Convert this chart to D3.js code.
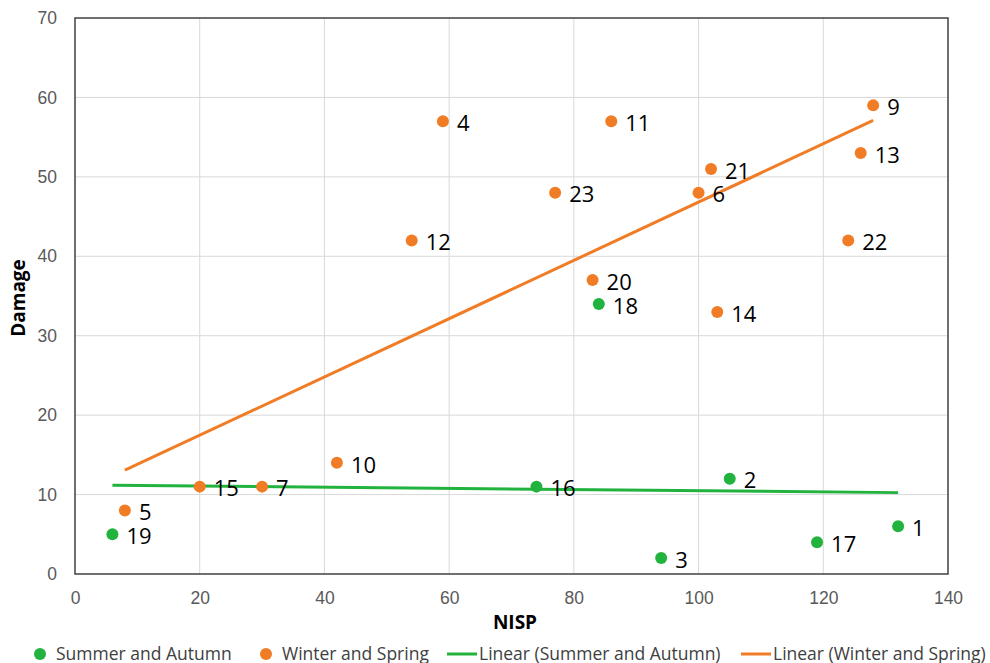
<!DOCTYPE html>
<html lang="en">
<head>
    <meta charset="UTF-8">
    <title>Damage vs NISP</title>
    <style>
        body { margin: 0; background: #fff; }
        svg { font-family: "Open Sans", sans-serif; }
        .tick text { fill: #595959; font-size: 17.5px; }
        .axis-title { font-size: 19px; font-weight: bold; fill: #000; }
        .pt-label { font-size: 22px; fill: #000; }
        .legend-label { font-size: 17.5px; fill: #404040; }
    </style>
</head>
<body>
    <svg width="990" height="663"></svg>
    <script src="https://d3js.org/d3.v7.min.js"></script>
    <script>
        // Summer and Autumn
        const summerIds = [1, 2, 3, 16, 17, 18, 19];
        const summerNisp = [132, 105, 94, 74, 119, 84, 6];
        const summerDamage = [6, 12, 2, 11, 4, 34, 5];

        // Winter and Spring
        const winterIds = [4, 5, 6, 7, 9, 10, 11, 12, 13, 14, 15, 20, 21, 22, 23];
        const winterNisp = [59, 8, 100, 30, 128, 42, 86, 54, 126, 103, 20, 83, 102, 124, 77];
        const winterDamage = [57, 8, 48, 11, 59, 14, 57, 42, 53, 33, 11, 37, 51, 42, 48];

        const xTicks = [0, 20, 40, 60, 80, 100, 120, 140];
        const yTicks = [0, 10, 20, 30, 40, 50, 60, 70];

        const green = "#22b33f", orange = "#f07d26";

        const svg = d3.select("svg"),
            margin = {top: 18, right: 42, bottom: 89, left: 75},
            width = +svg.attr("width") - margin.left - margin.right,
            height = +svg.attr("height") - margin.top - margin.bottom,
            g = svg.append("g").attr("transform", `translate(${margin.left},${margin.top})`);

        const x = d3.scaleLinear().domain([0, 140]).range([0, width]);
        const y = d3.scaleLinear().domain([0, 70]).range([height, 0]);

        const toPoints = (ids, xs, ys) => ids.map((id, i) => ({id: id, x: xs[i], y: ys[i]}));
        const summer = toPoints(summerIds, summerNisp, summerDamage);
        const winter = toPoints(winterIds, winterNisp, winterDamage);

        // least squares trend, drawn over the data's x range like Excel does
        function trend(pts) {
            const mx = d3.mean(pts, d => d.x), my = d3.mean(pts, d => d.y);
            const b = d3.sum(pts, d => (d.x - mx) * (d.y - my)) / d3.sum(pts, d => (d.x - mx) ** 2);
            const a = my - b * mx;
            const [x0, x1] = d3.extent(pts, d => d.x);
            return [{x: x0, y: a + b * x0}, {x: x1, y: a + b * x1}];
        }

        // grid
        g.append("g")
            .selectAll("line")
            .data(yTicks.slice(1, -1))
            .join("line")
            .attr("x1", 0).attr("x2", width)
            .attr("y1", d => y(d)).attr("y2", d => y(d))
            .attr("stroke", "#d9d9d9").attr("stroke-width", 1);
        g.append("g")
            .selectAll("line")
            .data(xTicks.slice(1, -1))
            .join("line")
            .attr("y1", 0).attr("y2", height)
            .attr("x1", d => x(d)).attr("x2", d => x(d))
            .attr("stroke", "#d9d9d9").attr("stroke-width", 1);

        // axes
        const xAxis = g.append("g")
            .attr("transform", `translate(0,${height})`)
            .call(d3.axisBottom(x).tickValues(xTicks).tickSize(0).tickPadding(18));
        const yAxis = g.append("g")
            .call(d3.axisLeft(y).tickValues(yTicks).tickSize(0).tickPadding(18));
        xAxis.select(".domain").remove();
        yAxis.select(".domain").remove();

        g.append("rect")
            .attr("width", width).attr("height", height)
            .attr("fill", "none")
            .attr("stroke", "#404040").attr("stroke-width", 1.5);

        // trendlines
        const line = d3.line().x(d => x(d.x)).y(d => y(d.y));
        g.append("path").datum(trend(summer)).attr("d", line)
            .attr("fill", "none").attr("stroke", green).attr("stroke-width", 3);
        g.append("path").datum(trend(winter)).attr("d", line)
            .attr("fill", "none").attr("stroke", orange).attr("stroke-width", 3);

        // points and labels
        [[summer, green], [winter, orange]].forEach(([pts, col]) => {
            g.append("g").selectAll("circle")
                .data(pts).join("circle")
                .attr("cx", d => x(d.x)).attr("cy", d => y(d.y))
                .attr("r", 6).attr("fill", col);
            g.append("g").selectAll("text")
                .data(pts).join("text")
                .attr("class", "pt-label")
                .attr("x", d => x(d.x) + 14)
                .attr("y", d => y(d.y) + 2)
                .attr("dy", "0.35em")
                .text(d => d.id);
        });

        // axis titles
        svg.append("text")
            .attr("class", "axis-title")
            .attr("x", 515)
            .attr("y", 629)
            .attr("text-anchor", "middle")
            .text("NISP");
        svg.append("text")
            .attr("class", "axis-title")
            .attr("transform", `translate(25,298) rotate(-90)`)
            .attr("text-anchor", "middle")
            .text("Damage");

        // legend
        const legendItems = [
            {name: "Summer and Autumn", color: green, type: "dot", pos: 40},
            {name: "Winter and Spring", color: orange, type: "dot", pos: 266},
            {name: "Linear (Summer and Autumn)", color: green, type: "line", pos: 462},
            {name: "Linear (Winter and Spring)", color: orange, type: "line", pos: 756}
        ];
        const legend = svg.selectAll(".legend")
            .data(legendItems)
            .join("g")
            .attr("class", "legend")
            .attr("transform", d => `translate(${d.pos},654)`);
        legend.filter(d => d.type === "dot").append("circle")
            .attr("r", 6).attr("fill", d => d.color);
        legend.filter(d => d.type === "line").append("line")
            .attr("x1", -15).attr("x2", 15)
            .attr("stroke", d => d.color).attr("stroke-width", 3);
        legend.append("text")
            .attr("class", "legend-label")
            .attr("x", d => d.type === "dot" ? 16 : 17)
            .attr("dy", "0.35em")
            .text(d => d.name);
    </script>
</body>
</html>
